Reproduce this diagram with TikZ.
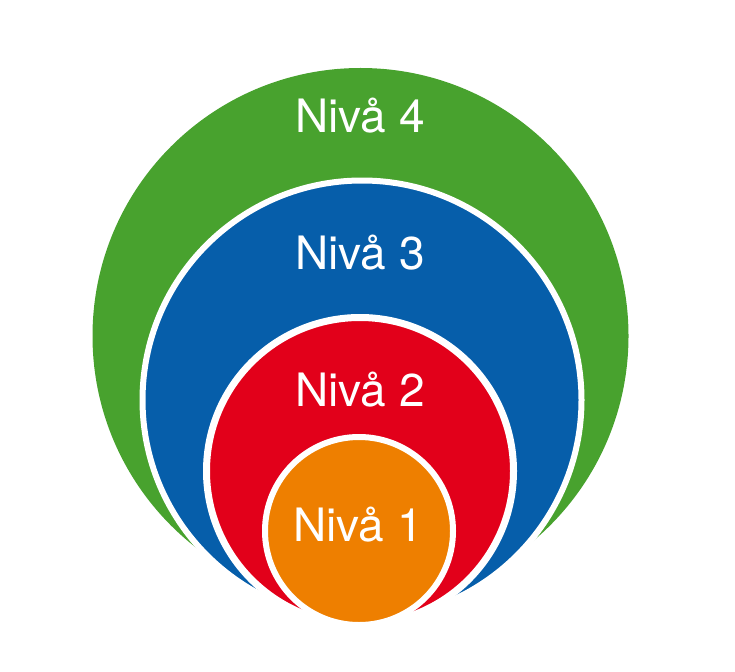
\documentclass[tikz,border=0pt]{standalone}
\usepackage{fontspec}
\setmainfont{TeX Gyre Heros}
\definecolor{nivgreen}{HTML}{48A22E}
\definecolor{nivblue}{HTML}{065EAA}
\definecolor{nivred}{HTML}{E2001A}
\definecolor{nivorange}{HTML}{EE7F00}

\begin{document}
\begin{tikzpicture}[x=1pt, y=-1pt,
    ring/.style={draw=white, line width=6pt},
    levtext/.style={text=white, inner sep=0pt, anchor=base, font=\fontsize{46}{54}\selectfont}]
    \useasboundingbox (0,0) rectangle (735,671);

    % 最外层 Nivå 4
    \fill[nivgreen] (360.5,336) circle[radius=268pt];

    % 内层圆, 带白边
    \draw[ring, fill=nivblue] (362,400) circle[radius=219.5pt];
    \draw[ring, line width=7pt, fill=nivred] (360,471) circle[radius=153.5pt];
    \draw[ring, fill=nivorange] (359,531) circle[radius=94pt];

    % 各层文字
    \node[levtext] (niv4) at (360,133) {Nivå 4};
    \node[levtext] (niv3) at (360,269) {Nivå 3};
    \node[levtext] (niv2) at (360,406) {Nivå 2};
    \node[levtext] (niv1) at (358,541) {Nivå 1};
\end{tikzpicture}
\end{document}
